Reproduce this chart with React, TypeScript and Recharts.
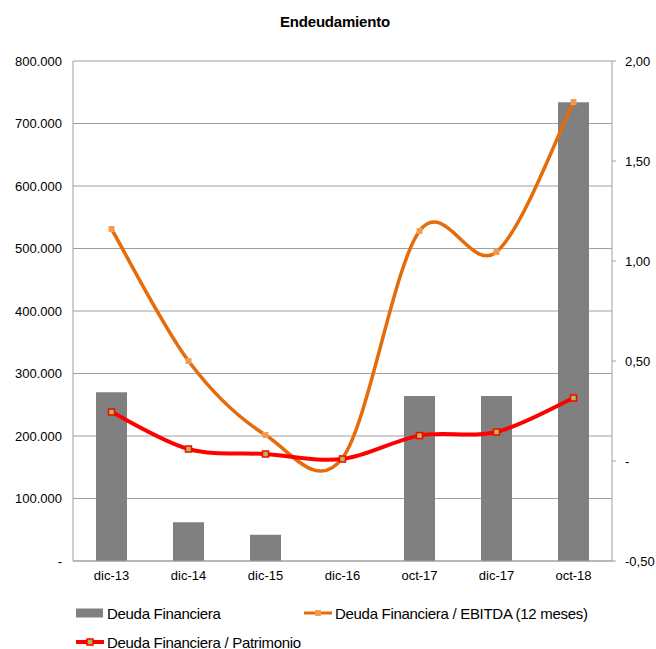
import React from 'react';
import { ComposedChart, Bar, Line, XAxis, YAxis, CartesianGrid } from 'recharts';

const categories = ['dic-13', 'dic-14', 'dic-15', 'dic-16', 'oct-17', 'dic-17', 'oct-18'];
const deudaFinanciera = [270000, 62000, 42000, 0, 264000, 264000, 734000];
const deudaEbitda = [1.16, 0.5, 0.13, 0.015, 1.15, 1.045, 1.795];
const deudaPatrimonio = [0.245, 0.06, 0.035, 0.01, 0.127, 0.145, 0.315];
const leftTicks = [0, 100000, 200000, 300000, 400000, 500000, 600000, 700000, 800000];
const rightTicks = [-0.5, 0, 0.5, 1, 1.5, 2];

const data = categories.map((c, i) => ({
  cat: c,
  deuda: deudaFinanciera[i],
  ebitda: deudaEbitda[i],
  patrimonio: deudaPatrimonio[i],
}));

const FONT = "'Liberation Sans Narrow', 'Arial Narrow', 'Liberation Sans', Arial, sans-serif";
const GRID = '#a0a0a0';
const ORANGE = '#E46C0A';
const RED = '#FF0000';
const BARC = '#808080';

function excelSmooth(context: any) {
  let pts: number[][] = [];
  return {
    areaStart() {},
    areaEnd() {},
    lineStart() {
      pts = [];
    },
    lineEnd() {
      const n = pts.length;
      if (n === 0) return;
      context.moveTo(pts[0][0], pts[0][1]);
      for (let i = 0; i < n - 1; i++) {
        const p0 = pts[Math.max(0, i - 1)];
        const p1 = pts[i];
        const p2 = pts[i + 1];
        const p3 = pts[Math.min(n - 1, i + 2)];
        context.bezierCurveTo(
          p1[0] + (p2[0] - p0[0]) / 6,
          p1[1] + (p2[1] - p0[1]) / 6,
          p2[0] - (p3[0] - p1[0]) / 6,
          p2[1] - (p3[1] - p1[1]) / 6,
          p2[0],
          p2[1]
        );
      }
    },
    point(x: number, y: number) {
      pts.push([+x, +y]);
    },
  };
}

const fmtLeft = (v: number) =>
  v === 0 ? '-' : String(v).replace(/\B(?=(\d{3})+(?!\d))/g, '.');
const fmtRight = (v: number) => (v === 0 ? '-' : v.toFixed(2).replace('.', ','));

const OrangeDot = (props: any) => {
  const { cx, cy } = props;
  if (cx == null || cy == null) return null;
  return <rect x={cx - 2.5} y={cy - 2.5} width={5} height={5} fill="#F79646" stroke="#F5A15E" strokeWidth={1} />;
};
const RedDot = (props: any) => {
  const { cx, cy } = props;
  if (cx == null || cy == null) return null;
  return <rect x={cx - 3} y={cy - 3} width={6} height={6} fill="#A8C050" stroke={RED} strokeWidth={1.5} />;
};

const LegendItem = ({ kind, label, left, top }: any) => (
  <div style={{ position: 'absolute', left, top, display: 'flex', alignItems: 'center', height: 18 }}>
    <svg width={28} height={12} style={{ marginRight: 3 }}>
      {kind === 'bar' && <rect x={0} y={1.5} width={27} height={9} fill={BARC} />}
      {kind === 'orange' && (
        <g>
          <line x1={0} y1={6} x2={28} y2={6} stroke={ORANGE} strokeWidth={3} />
          <rect x={11.5} y={3.5} width={5} height={5} fill="#F79646" stroke="#F5A15E" />
        </g>
      )}
      {kind === 'red' && (
        <g>
          <line x1={0} y1={6} x2={28} y2={6} stroke={RED} strokeWidth={4} />
          <rect x={11} y={3} width={6} height={6} fill="#A8C050" stroke={RED} strokeWidth={1.5} />
        </g>
      )}
    </svg>
    <span style={{ fontSize: 15, color: '#000', whiteSpace: 'nowrap', letterSpacing: -0.3 }}>{label}</span>
  </div>
);

export default function App() {
  return (
    <div style={{ position: 'absolute', left: 0, top: 0, width: 656, height: 649, background: '#fff', fontFamily: FONT }}>
      <div style={{ position: 'absolute', left: 0, top: 13, width: 670, textAlign: 'center', fontWeight: 'bold', fontSize: 15, color: '#000', letterSpacing: -0.2 }}>
        Endeudamiento
      </div>
      <ComposedChart
        width={656}
        height={649}
        data={data}
        margin={{ top: 61, right: 0, bottom: 58, left: 0 }}
        style={{ fontFamily: FONT }}
      >
        <CartesianGrid yAxisId="left" vertical={false} stroke={GRID} strokeWidth={1} ticks={leftTicks as any} />
        <XAxis
          dataKey="cat"
          height={30}
          tickLine={false}
          axisLine={{ stroke: GRID }}
          tick={{ fill: '#000', fontSize: 13 }}
          tickMargin={8}
          tickSize={2}
        />
        <YAxis
          yAxisId="left"
          orientation="left"
          width={73}
          domain={[0, 800000]}
          ticks={leftTicks}
          tickFormatter={fmtLeft}
          tickLine={false}
          tickSize={4}
          tickMargin={7}
          axisLine={{ stroke: GRID }}
          tick={{ fill: '#000', fontSize: 13 }}
          interval={0}
        />
        <YAxis
          yAxisId="right"
          orientation="right"
          width={44}
          domain={[-0.5, 2]}
          ticks={rightTicks}
          tickFormatter={fmtRight}
          tickLine={{ stroke: GRID }}
          tickSize={4}
          tickMargin={9}
          axisLine={{ stroke: GRID }}
          tick={{ fill: '#000', fontSize: 13 }}
          interval={0}
        />
        <Bar yAxisId="left" dataKey="deuda" fill={BARC} barSize={31} isAnimationActive={false} />
        <Line
          yAxisId="right"
          dataKey="ebitda"
          type={excelSmooth as any}
          stroke={ORANGE}
          strokeWidth={3.5}
          dot={<OrangeDot />}
          activeDot={false}
          isAnimationActive={false}
        />
        <Line
          yAxisId="right"
          dataKey="patrimonio"
          type={excelSmooth as any}
          stroke={RED}
          strokeWidth={4}
          dot={<RedDot />}
          activeDot={false}
          isAnimationActive={false}
        />
      </ComposedChart>
      <LegendItem kind="bar" label="Deuda Financiera" left={76} top={604} />
      <LegendItem kind="orange" label="Deuda Financiera / EBITDA (12 meses)" left={304} top={604} />
      <LegendItem kind="red" label="Deuda Financiera / Patrimonio" left={76} top={633} />
    </div>
  );
}
